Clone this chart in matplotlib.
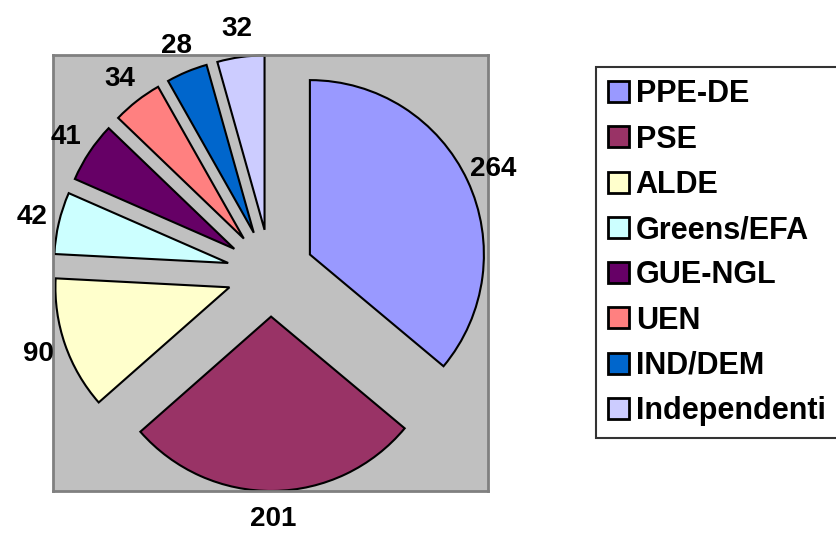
import matplotlib
matplotlib.use('Agg')
import matplotlib.pyplot as plt

# seggi per gruppo politico
gruppi = ['PPE-DE', 'PSE', 'ALDE', 'Greens/EFA', 'GUE-NGL', 'UEN', 'IND/DEM', 'Independenti']
seggi = [264, 201, 90, 42, 41, 34, 28, 32]
colori = ['#9999FF', '#993366', '#FFFFCC', '#CCFFFF', '#660066', '#FF8080', '#0066CC', '#CCCCFF']

plt.rcParams['font.family'] = ['Liberation Sans', 'DejaVu Sans']

fig = plt.figure(figsize=(8.36, 5.37), dpi=100)
ax = fig.add_axes([53 / 836, 1 - 491 / 537, 435 / 836, 436 / 537])

wedges, texts, autotexts = ax.pie(seggi, colors=colori, startangle=90, counterclock=False,
                                  explode=[0.25] * len(seggi), frame=True,
                                  autopct=lambda p: '%d' % round(p * sum(seggi) / 100),
                                  pctdistance=1.16,
                                  wedgeprops=dict(edgecolor='black', linewidth=1.5),
                                  textprops=dict(fontsize=20, fontweight='bold', color='black'))
for t in autotexts:
    t.set_clip_on(False)

ax.set_aspect('auto')
ax.set_xlim(-1.25, 1.25)
ax.set_ylim(-1.25, 1.25)
ax.set_xticks([])
ax.set_yticks([])
ax.set_facecolor('#C0C0C0')
for s in ax.spines.values():
    s.set_color('#808080')
    s.set_linewidth(2)

leg = fig.legend(wedges, gruppi, loc='upper left', bbox_to_anchor=(596 / 836, 1 - 67 / 537),
                 borderaxespad=0, fancybox=False, frameon=True, handlelength=0.68, handleheight=0.68,
                 handletextpad=0.22, labelspacing=0.5, borderpad=0.4,
                 prop=dict(size=22, weight='bold'))
leg.get_frame().set_edgecolor('black')
leg.get_frame().set_linewidth(1.5)
for h in leg.legend_handles:
    h.set_linewidth(2)

fig.savefig('out.png', dpi=100)
